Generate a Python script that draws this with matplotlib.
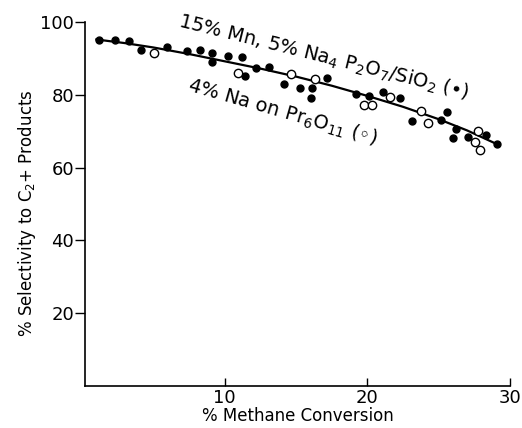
import numpy as np
import matplotlib
matplotlib.use("Agg")
import matplotlib.pyplot as plt

plt.rcParams['font.family'] = ['DejaVu Sans']
plt.rcParams['mathtext.fontset'] = 'dejavusans'

# ── data ─────────────────────────────────────────────────────────────
mn_x = [1.19, 2.28, 3.28, 4.15, 5.93, 7.37, 8.25, 9.12, 9.07, 10.2,
        11.23, 11.4, 12.2, 13.1, 14.14, 15.26, 16.1, 16.08, 17.14, 19.19,
        20.14, 21.12, 22.28, 23.1, 25.58, 25.14, 26.18, 26.0, 27.07, 28.3, 29.1]
mn_y = [95.0, 95.1, 94.8, 92.4, 93.1, 92.1, 92.3, 91.4, 89.0, 90.6,
        90.5, 85.1, 87.3, 87.6, 83.0, 81.8, 81.8, 79.1, 84.6, 80.1,
        79.6, 80.9, 79.0, 72.9, 75.2, 73.1, 70.7, 68.0, 68.3, 69.0, 66.5]

na_x = [5.02, 10.93, 14.63, 16.32, 19.75, 20.3, 21.6, 23.75, 24.27, 27.78, 27.54, 27.9]
na_y = [91.4, 85.9, 85.8, 84.4, 77.1, 77.3, 79.4, 75.6, 72.2, 70.1, 67.0, 64.9]

curve_x = [1, 3, 5, 7.5, 10, 12.5, 15, 17.5, 20, 22.5, 25, 27, 29]
curve_y = [95.2, 94.2, 93.0, 91.2, 89.2, 87.2, 85.0, 82.5, 79.7, 76.7, 73.3, 70.2, 66.6]

xticks = [10, 20, 30]
yticks = [20, 40, 60, 80, 100]

# ── figure ───────────────────────────────────────────────────────────
fig = plt.figure(figsize=(5.22, 4.28), dpi=100)
ax = fig.add_axes([85/522, 1 - 386/428, 425/522, (386 - 22)/428])

ax.plot(curve_x, curve_y, '-', color='black', linewidth=1.6, zorder=2)
ax.plot(mn_x, mn_y, 'o', color='black', markersize=5, zorder=3)
ax.plot(na_x, na_y, 'o', markerfacecolor='white', markeredgecolor='black',
        markeredgewidth=1.0, markersize=6, zorder=4)

ax.set_xlim(0.2, 30)
ax.set_ylim(0, 100)
ax.set_xticks(xticks)
ax.set_yticks(yticks)
ax.tick_params(axis='x', direction='in', length=6, width=1, labelsize=13, pad=2)
ax.tick_params(axis='y', direction='out', length=7, width=1, labelsize=13, pad=1)
for s in ['top', 'right']:
    ax.spines[s].set_visible(False)
for s in ['left', 'bottom']:
    ax.spines[s].set_linewidth(1.2)

ax.set_xlabel('% Methane Conversion', fontsize=12)
ax.xaxis.set_label_coords(0.5, -0.058)
ax.set_ylabel('% Selectivity to C$_2$+ Products', fontsize=12)
ax.yaxis.set_label_coords(-0.11, 0.475)

ax.text(6.7, 98.6, '15% Mn, 5% Na$_4$ P$_2$O$_7$/SiO$_2$ (\u2022)', fontsize=14,
        rotation=-14, rotation_mode='anchor', ha='left', va='baseline', clip_on=False)
ax.text(7.3, 81.0, '4% Na on Pr$_6$O$_{11}$ (\u25e6)', fontsize=14,
        rotation=-16, rotation_mode='anchor', ha='left', va='baseline', clip_on=False)

fig.savefig('out.png', dpi=100)
